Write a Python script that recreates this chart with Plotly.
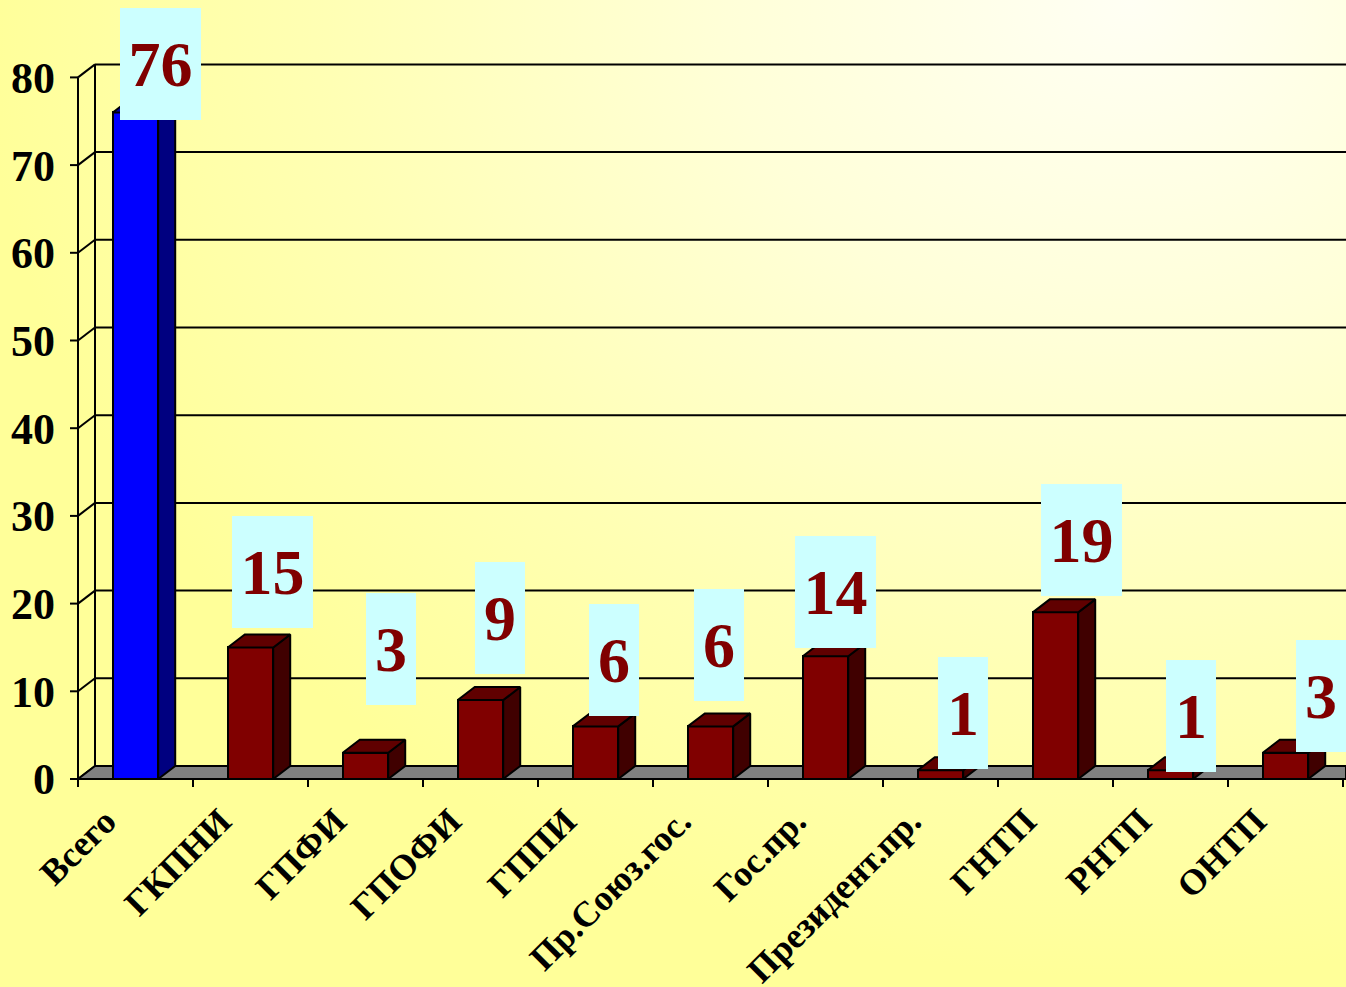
import base64
import plotly.graph_objects as go

# ---- data -------------------------------------------------------------
categories = ["Всего", "ГКПНИ", "ГПФИ", "ГПОФИ", "ГППИ", "Пр.Союз.гос.",
              "Гос.пр.", "Президент.пр.", "ГНТП", "РНТП", "ОНТП"]
values = [76, 15, 3, 9, 6, 6, 14, 1, 19, 1, 3]
y_ticks = [0, 10, 20, 30, 40, 50, 60, 70, 80]

# placement of the value boxes relative to their bar (category / value units)
label_dx = [0.217, 0.191, 0.222, 0.170, 0.161, 0.074, 0.087, 0.193, 0.225, 0.178, 0.309]
label_dy = [5.5, 8.6, 11.77, 9.36, 7.57, 9.28, 7.32, 6.53, 8.25, 6.18, 6.46]

# ---- geometry ---------------------------------------------------------
W, H = 1346, 987
PX_X = 115.0          # pixels per category
PX_Y = 8.77           # pixels per value unit
AXIS_X_PX = 78        # front value axis
ZERO_Y_PX = 779       # front floor edge
PLOT_LEFT = 70
PLOT_BOTTOM = 792

depth_x = 17 / PX_X   # 3-D depth offset
depth_y = 13 / PX_Y
bar_w = 0.395
tick_len_x = 8 / PX_X
tick_len_y = 8 / PX_Y

x_lo = -0.5 - (AXIS_X_PX - PLOT_LEFT) / PX_X
x_hi = -0.5 + (W - AXIS_X_PX) / PX_X
y_lo = -(PLOT_BOTTOM - ZERO_Y_PX) / PX_Y
y_hi = ZERO_Y_PX / PX_Y
x_left = -0.5

FONT = "Liberation Serif"
front_cols = ["#0000FF"] + ["#800000"] * (len(values) - 1)
side_cols = ["#000080"] + ["#400000"] * (len(values) - 1)
top_cols = ["#0000B0"] + ["#600000"] * (len(values) - 1)

fig = go.Figure()

# front faces of the columns
fig.add_trace(go.Bar(
    x=list(range(len(values))), y=values, width=bar_w,
    marker=dict(color=front_cols, line=dict(color="black", width=2)),
    hoverinfo="skip", showlegend=False,
))

# side and top faces give the columns their depth
for i, v in enumerate(values):
    xl, xr = i - bar_w / 2, i + bar_w / 2
    fig.add_trace(go.Scatter(
        x=[xr, xr + depth_x, xr + depth_x, xr, xr],
        y=[0, depth_y, v + depth_y, v, 0],
        fill="toself", fillcolor=side_cols[i], mode="lines",
        line=dict(color="black", width=2), hoverinfo="skip", showlegend=False,
    ))
    fig.add_trace(go.Scatter(
        x=[xl, xl + depth_x, xr + depth_x, xr, xl],
        y=[v, v + depth_y, v + depth_y, v, v],
        fill="toself", fillcolor=top_cols[i], mode="lines",
        line=dict(color="black", width=2), hoverinfo="skip", showlegend=False,
    ))

shapes = []
line_k = dict(color="black", width=2)
# back wall grid and side wall edges
for t in y_ticks:
    shapes.append(dict(type="line", xref="x", yref="y", layer="below",
                       x0=x_left + depth_x, y0=t + depth_y, x1=x_hi, y1=t + depth_y, line=line_k))
    shapes.append(dict(type="line", xref="x", yref="y", layer="below",
                       x0=x_left, y0=t, x1=x_left + depth_x, y1=t + depth_y, line=line_k))
    shapes.append(dict(type="line", xref="x", yref="y", layer="below",
                       x0=x_left - tick_len_x, y0=t, x1=x_left, y1=t, line=line_k))
shapes.append(dict(type="line", xref="x", yref="y", layer="below",
                   x0=x_left + depth_x, y0=depth_y, x1=x_left + depth_x, y1=y_ticks[-1] + depth_y,
                   line=line_k))
# floor
shapes.append(dict(type="path", xref="x", yref="y", layer="below",
                   path=f"M {x_left},0 L {x_left + depth_x},{depth_y} L {x_hi},{depth_y} L {x_hi},0 Z",
                   fillcolor="#808080", line=line_k))
# front value axis
shapes.append(dict(type="line", xref="x", yref="y", layer="below",
                   x0=x_left, y0=0, x1=x_left, y1=y_ticks[-1], line=line_k))
# category boundary ticks
for k in range(len(categories) + 1):
    shapes.append(dict(type="line", xref="x", yref="y", layer="below",
                       x0=k - 0.5, y0=0, x1=k - 0.5, y1=-tick_len_y, line=line_k))

# value boxes
annotations = []
for i, v in enumerate(values):
    annotations.append(dict(
        x=i + label_dx[i], y=v + label_dy[i], xref="x", yref="y",
        text=str(v), showarrow=False, xanchor="center", yanchor="middle",
        width=81 if v >= 10 else 50, height=112,
        bgcolor="#CCFFFF", borderpad=0, borderwidth=0,
        font=dict(family=FONT, size=64, color="#800000", weight="bold"),
    ))

# background gradient
svg = (
    f'<svg xmlns="http://www.w3.org/2000/svg" width="{W}" height="{H}">'
    '<defs><radialGradient id="g" gradientUnits="userSpaceOnUse" cx="1130" cy="0" r="1150" '
    'gradientTransform="translate(1130 0) scale(1 0.85) translate(-1130 0)">'
    '<stop offset="0" stop-color="#FFFFF4"/>'
    '<stop offset="0.35" stop-color="#FFFFD8"/>'
    '<stop offset="0.7" stop-color="#FFFFB4"/>'
    '<stop offset="1" stop-color="#FFFF99"/>'
    '</radialGradient></defs>'
    '<rect width="100%" height="100%" fill="#FFFF99"/>'
    '<rect width="100%" height="100%" fill="url(#g)"/></svg>'
)
bg_src = "data:image/svg+xml;base64," + base64.b64encode(svg.encode("utf-8")).decode("ascii")
plot_w = W - PLOT_LEFT
plot_h = PLOT_BOTTOM

fig.update_layout(
    width=W, height=H,
    margin=dict(l=PLOT_LEFT, r=0, t=0, b=H - PLOT_BOTTOM, pad=0),
    paper_bgcolor="rgba(0,0,0,0)", plot_bgcolor="rgba(0,0,0,0)",
    showlegend=False, bargap=0,
    shapes=shapes, annotations=annotations,
    images=[dict(source=bg_src, xref="paper", yref="paper",
                 x=-PLOT_LEFT / plot_w, y=1, sizex=W / plot_w, sizey=H / plot_h,
                 xanchor="left", yanchor="top", sizing="stretch", layer="below")],
    xaxis=dict(
        range=[x_lo, x_hi], tickmode="array", tickvals=list(range(len(categories))),
        ticktext=categories, tickangle=-45, ticks="", showgrid=False, zeroline=False,
        showline=False, automargin=False, ticklabelshift=-30, ticklabelstandoff=0,
        tickfont=dict(family=FONT, size=36, color="black", weight="bold"),
    ),
    yaxis=dict(
        range=[y_lo, y_hi], tickmode="array", tickvals=y_ticks, ticks="",
        showgrid=False, zeroline=False, showline=False, automargin=False,
        ticklabelstandoff=14,
        tickfont=dict(family=FONT, size=44, color="black", weight="bold"),
    ),
)

fig.write_html("out.html")
